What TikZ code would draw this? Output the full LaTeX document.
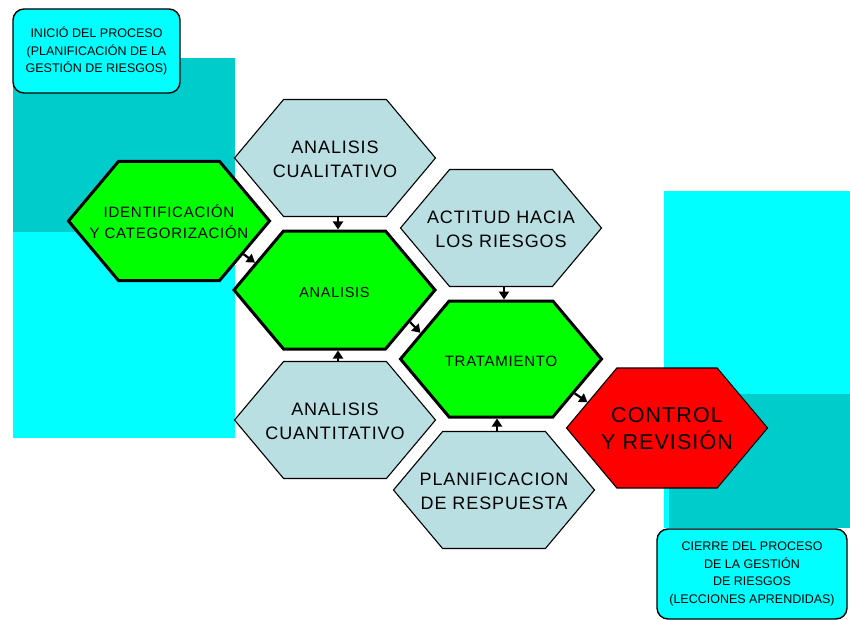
\documentclass[tikz,border=0pt]{standalone}
\usepackage{fontspec}
\setmainfont{Liberation Sans}
\newfontfamily\spacedfont{Liberation Sans}[LetterSpace=5]
\usetikzlibrary{shapes.symbols,arrows.meta}

\definecolor{aqua}{RGB}{0,255,255}
\definecolor{teal}{RGB}{0,204,204}
\definecolor{leaf}{RGB}{0,255,0}
\definecolor{mist}{RGB}{186,223,227}
\definecolor{alarm}{RGB}{255,0,0}

% text of a hexagon: centred lines in a box of zero width, so that the
% hexagon keeps the size given by its minimum width and height;
% the lines sit a little below the middle
\newcommand\hextext[1]{\raisebox{-3pt}[\height][\depth]{\makebox[0pt]{\begin{tabular}{@{}c@{}}#1\end{tabular}}}}

\tikzset{
  hexbase/.style={shape=signal, signal to=east and west, signal pointer angle=100,
    minimum width=201pt, minimum height=118pt, inner sep=0pt, draw=black},
  stage/.style={hexbase, fill=leaf, line width=3pt},
  input/.style={hexbase, fill=mist, line width=1.1pt, minimum height=117pt,
    font=\spacedfont\fontsize{18}{24}\selectfont},
  finalstage/.style={hexbase, fill=alarm, line width=1.1pt,
    font=\spacedfont\fontsize{21.5}{25}\selectfont},
  note/.style={draw=black, fill=aqua, line width=1.4pt, rounded corners=11pt,
    align=center, inner sep=0pt, font=\fontsize{12.5}{17.5}\selectfont},
  flow/.style={line width=2.2pt, -{Triangle[length=8pt,width=10pt]}},
}

\begin{document}
\begin{tikzpicture}[x=1pt, y=-1pt]
  \useasboundingbox (0,0) rectangle (850,620);

  % coloured panels behind the process
  \fill[teal] (13,58) rectangle (235,232);
  \fill[aqua] (13,232) rectangle (235,438);
  \fill[aqua] (664,191) rectangle (850,528);
  \fill[teal] (669,394) rectangle (850,528);

  % start and end notes
  \node[note, minimum width=167pt, minimum height=84pt] (inicio) at (96.5,51)
    {INICIÓ DEL PROCESO\\(PLANIFICACIÓN DE LA\\GESTIÓN DE RIESGOS)};
  \node[note, minimum width=190pt, minimum height=90pt] (cierre) at (752,574)
    {CIERRE DEL PROCESO\\DE LA GESTIÓN\\DE RIESGOS\\(LECCIONES APRENDIDAS)};

  % process hexagons
  \node[stage, minimum height=119pt, font=\spacedfont\fontsize{15}{21}\selectfont] (ident) at (169,221)
    {\hextext{IDENTIFICACIÓN\\Y CATEGORIZACIÓN}};
  \node[input] (cual) at (335,158) {\hextext{ANALISIS\\CUALITATIVO}};
  \node[stage, font=\spacedfont\fontsize{14.5}{20}\selectfont] (analisis) at (334.5,290)
    {\hextext{ANALISIS}};
  \node[input] (actitud) at (501,228) {\hextext{ACTITUD HACIA\\LOS RIESGOS}};
  \node[stage, minimum height=116pt, font=\spacedfont\fontsize{15}{20}\selectfont] (trat) at (501,359)
    {\hextext{TRATAMIENTO}};
  \node[input] (cuant) at (335,420) {\hextext{ANALISIS\\CUANTITATIVO}};
  \node[input] (planif) at (494,490) {\hextext{PLANIFICACION\\DE RESPUESTA}};
  \node[finalstage, minimum height=120pt] (control) at (667,428)
    {\hextext{CONTROL\\Y REVISIÓN}};

  % connectors
  \draw[flow] (ident.-24) -- (analisis.161);
  \draw[flow] ([xshift=3pt]cual.south) -- ([xshift=3pt]cual.south |- analisis.north);
  \draw[flow] ([xshift=3pt]cuant.north) -- ([xshift=3pt]cuant.north |- analisis.south);
  \draw[flow] (analisis.-23.5) -- (trat.162);
  \draw[flow] ([xshift=3pt]actitud.south) -- ([xshift=3pt]actitud.south |- trat.north);
  \draw[flow] ([xshift=3pt]planif.north) -- ([xshift=3pt]planif.north |- trat.south);
  \draw[flow] (trat.-25) -- (control.162);
\end{tikzpicture}
\end{document}
